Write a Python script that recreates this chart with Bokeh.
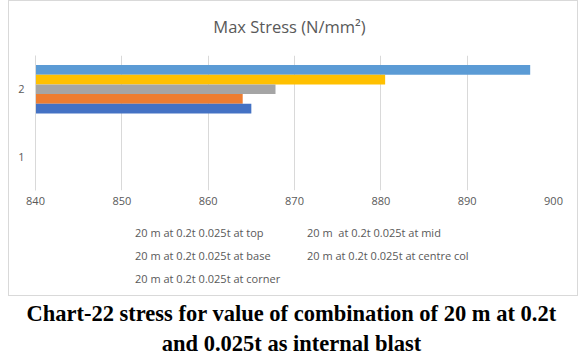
from bokeh.plotting import figure
from bokeh.models import (FactorRange, Range1d, FixedTicker, Legend, LegendItem,
                          Label, ColumnDataSource, Spacer, CDSView, IndexFilter)
from bokeh.layouts import column, row
from bokeh.transform import dodge
from bokeh.embed import file_html
from bokeh.resources import INLINE

# ---- data ----
categories = ["1", "2"]
series_names = [
    "20 m at 0.2t 0.025t at top",
    "20 m  at 0.2t 0.025t at mid",
    "20 m at 0.2t 0.025t at base",
    "20 m at 0.2t 0.025t at centre col",
    "20 m at 0.2t 0.025t at corner",
]
top_vals = [None, 897.3]
mid_vals = [None, 880.5]
base_vals = [None, 867.8]
centre_vals = [None, 864.0]
corner_vals = [None, 865.0]
x_ticks = [840, 850, 860, 870, 880, 890, 900]
title_text = "Max Stress (N/mm\u00b2)"
caption_line1 = "Chart-22 stress for value of combination of 20 m at 0.2t"
caption_line2 = "and 0.025t as internal blast"

series_values = [top_vals, mid_vals, base_vals, centre_vals, corner_vals]
series_colors = ["#5b9bd5", "#ffc000", "#a5a5a5", "#ed7d31", "#4472c4"]

GREY = "#595959"
CW = 568  # inner chart width
FRAME_LEFT = 26


def blank_fig(w, h, y_range=None):
    f = figure(width=w, height=h, x_range=Range1d(0, 1),
               y_range=y_range if y_range is not None else Range1d(0, 1),
               output_backend="svg", toolbar_location=None, min_border=0,
               x_axis_location=None, y_axis_location=None)
    f.outline_line_color = None
    f.grid.visible = False
    f.background_fill_color = "white"
    f.border_fill_color = "white"
    return f


sources = [ColumnDataSource(dict(cat=categories, val=vals)) for vals in series_values]

# ---- title strip ----
pt = blank_fig(CW, 54)
pt.add_layout(Label(x=280 - FRAME_LEFT, y=29, x_units="screen", y_units="screen",
                    text=title_text, text_align="center", text_baseline="middle",
                    text_font="Open Sans", text_font_size="16.5px", text_color=GREY))

# ---- chart ----
p = figure(width=CW, height=160, y_range=FactorRange(*categories),
           x_range=Range1d(x_ticks[0], x_ticks[-1]),
           output_backend="svg", toolbar_location=None,
           min_border_left=FRAME_LEFT, min_border_right=24, min_border_top=0,
           min_border_bottom=25)
p.outline_line_color = None
p.background_fill_color = "white"
p.border_fill_color = "white"

bar_h = 0.72 / 5
offsets = [2 * bar_h, bar_h, 0, -bar_h, -2 * bar_h]
for src, col, off in zip(sources, series_colors, offsets):
    p.hbar(y=dodge("cat", off, range=p.y_range), left=x_ticks[0], right="val",
           height=bar_h, source=src, fill_color=col, line_color=None)

p.xaxis.ticker = FixedTicker(ticks=x_ticks)
for ax in (p.xaxis[0], p.yaxis[0]):
    ax.axis_line_color = None
    ax.major_tick_line_color = None
    ax.minor_tick_line_color = None
    ax.major_tick_out = 0
    ax.major_tick_in = 0
    ax.major_label_text_font = "Open Sans"
    ax.major_label_text_font_size = "11px"
    ax.major_label_text_color = GREY
p.yaxis.axis_line_color = "#d9d9d9"
p.xaxis.major_label_standoff = 6
p.yaxis.major_label_standoff = 11
p.xgrid.grid_line_color = "#d9d9d9"
p.ygrid.grid_line_color = None

# ---- legend strip (legend-only renderers: same series, nothing drawn) ----
pl = blank_fig(CW, 80, y_range=FactorRange(*categories))
items = []
for name, src, col in zip(series_names, sources, series_colors):
    r = pl.hbar(y="cat", left=x_ticks[0], right="val", height=bar_h, source=src,
                view=CDSView(filter=IndexFilter(indices=[])),
                fill_color=col, line_color=None)
    items.append(LegendItem(label=name, renderers=[r]))
legend = Legend(items=items, location=(114 - FRAME_LEFT, 8), orientation="horizontal",
                ncols=2, glyph_width=7, glyph_height=7, label_height=17, label_width=154,
                label_standoff=5, spacing=6, padding=0, margin=0,
                border_line_color=None, background_fill_alpha=0,
                label_text_font="Open Sans", label_text_font_size="11px",
                label_text_color=GREY)
pl.add_layout(legend, "center")

# ---- caption ----
pc = blank_fig(582, 59)
for txt, yy in ((caption_line1, 41.7), (caption_line2, 12)):
    pc.add_layout(Label(x=291, y=yy, x_units="screen", y_units="screen", text=txt,
                        text_align="center", text_baseline="middle",
                        text_font="Liberation Serif", text_font_style="bold",
                        text_font_size="22.5px", text_color="black"))

chart_box = column(pt, p, pl, spacing=0,
                   styles={"border": "1px solid #d9d9d9"})
layout = column(row(Spacer(width=8, height=10), chart_box, spacing=0), pc, spacing=0)
open("out.html", "w").write(file_html(layout, INLINE))
